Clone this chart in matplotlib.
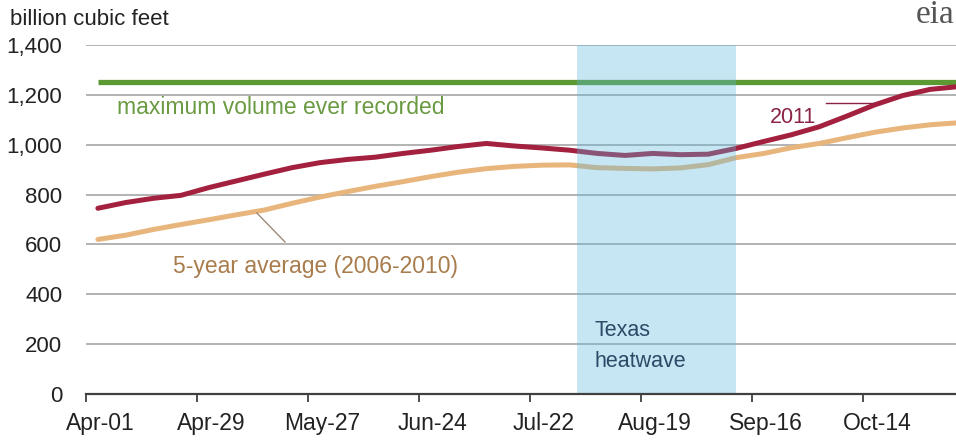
import numpy as np
import matplotlib
matplotlib.use('Agg')
import matplotlib.pyplot as plt
import matplotlib.dates as mdates
from matplotlib.transforms import ScaledTranslation

# weekly working gas in storage, billion cubic feet
week_start = np.datetime64('2011-04-04')
storage_2011 = [745, 768, 785, 797, 828, 855, 882, 908, 928, 941, 950, 965,
                978, 993, 1005, 995, 987, 978, 965, 957, 965, 960, 962, 985,
                1013, 1040, 1072, 1115, 1160, 1197, 1222, 1233]
avg_2006_2010 = [620, 637, 660, 680, 699, 719, 738, 765, 790, 812, 833, 852,
                 872, 890, 904, 913, 918, 919, 908, 905, 903, 907, 920, 948,
                 965, 988, 1005, 1028, 1050, 1067, 1080, 1088]
max_volume = 1250

heatwave = ('2011-08-03', '2011-09-12')
tick_dates = ['2011-04-01', '2011-04-29', '2011-05-27', '2011-06-24',
              '2011-07-22', '2011-08-19', '2011-09-16', '2011-10-14']
tick_labels = ['Apr-01', 'Apr-29', 'May-27', 'Jun-24', 'Jul-22', 'Aug-19',
               'Sep-16', 'Oct-14']
y_ticks = [0, 200, 400, 600, 800, 1000, 1200, 1400]

weeks = week_start + np.arange(len(storage_2011)) * np.timedelta64(7, 'D')
x = mdates.date2num(weeks.astype('datetime64[D]').astype(object))
d = lambda s: mdates.date2num(np.datetime64(s).astype(object))
d0 = d('2011-04-01')

red = '#a3203f'
tan = '#e8b67c'
green = '#5b9a32'

fig = plt.figure(figsize=(9.56, 4.42), dpi=100)
ax = fig.add_axes([86 / 956, 48 / 442, 870 / 956, 349 / 442])

ax.plot(x, avg_2006_2010, color=tan, lw=3.6, zorder=3, solid_capstyle='round')
ax.plot(x, storage_2011, color=red, lw=3.6, zorder=3.1, solid_capstyle='round')
ax.hlines(max_volume, x[0], x[-1] + 7, color=green, lw=3.8, zorder=3)

ax.axvspan(d(heatwave[0]), d(heatwave[1]), color='#5cb8e0', alpha=0.35,
           lw=0, zorder=5)

ax.set_xlim(d0, d0 + 219.5)
ax.set_ylim(0, 1400)

# annotations
ax.text(d0 + 7.8, 1123, 'maximum volume ever recorded', color='#6a9a42',
        fontsize=16.5, family='Liberation Sans', va='baseline', zorder=7)
ax.text(d0 + 22, 485, '5-year average (2006-2010)', color='#a87c4c',
        fontsize=16.5, family='Liberation Sans', va='baseline', zorder=7)
ax.plot([d0 + 43.1, d0 + 50.2], [726, 610], color='#9c8a78', lw=1.0, zorder=4)
ax.text(d0 + 172.6, 1089, '2011', color='#8b2346',
        fontsize=15.5, family='Liberation Sans', va='baseline', zorder=7)
ax.plot([d0 + 186.8, d0 + 198.5], [1166, 1166], color='#8b2346', lw=1.0,
        zorder=4)
ax.text(d0 + 128.4, 233, 'Texas', color='#2c4a66',
        fontsize=15.5, family='Liberation Sans', va='baseline', zorder=7)
ax.text(d0 + 128.4, 110, 'heatwave', color='#2c4a66',
        fontsize=15.5, family='Liberation Sans', va='baseline', zorder=7)

# axes styling
for s in ['left', 'right', 'top']:
    ax.spines[s].set_visible(False)
ax.spines['bottom'].set_color('#404040')
ax.spines['bottom'].set_linewidth(1.6)
ax.spines['bottom'].set_zorder(6)

ax.set_yticks(y_ticks)
ax.set_yticklabels([f'{v:,}' for v in y_ticks])
ax.yaxis.grid(True, color='#a6a6a6', lw=1.2, zorder=0)
ax.set_axisbelow(True)
ax.tick_params(axis='y', length=0, pad=17, labelsize=16, labelcolor='#222222')

ax.set_xticks([d(t) for t in tick_dates])
ax.set_xticklabels(tick_labels)
ax.tick_params(axis='x', length=6, width=1.3, color='#404040', pad=7,
               labelsize=16.5, labelcolor='#222222')
off = ScaledTranslation(14 / 100, 0, fig.dpi_scale_trans)
for lab in ax.get_xticklabels() + ax.get_yticklabels():
    lab.set_family('Liberation Sans')
for lab in ax.get_xticklabels():
    lab.set_transform(lab.get_transform() + off)

fig.text(10 / 956, 1 - 25 / 442, 'billion cubic feet', fontsize=16,
         family='Liberation Sans', color='#222222', va='baseline')
fig.text(916 / 956, 1 - 23 / 442, 'eia', fontsize=24, family='Liberation Serif',
         color='#555555', va='baseline')

fig.savefig('out.png', dpi=100)
